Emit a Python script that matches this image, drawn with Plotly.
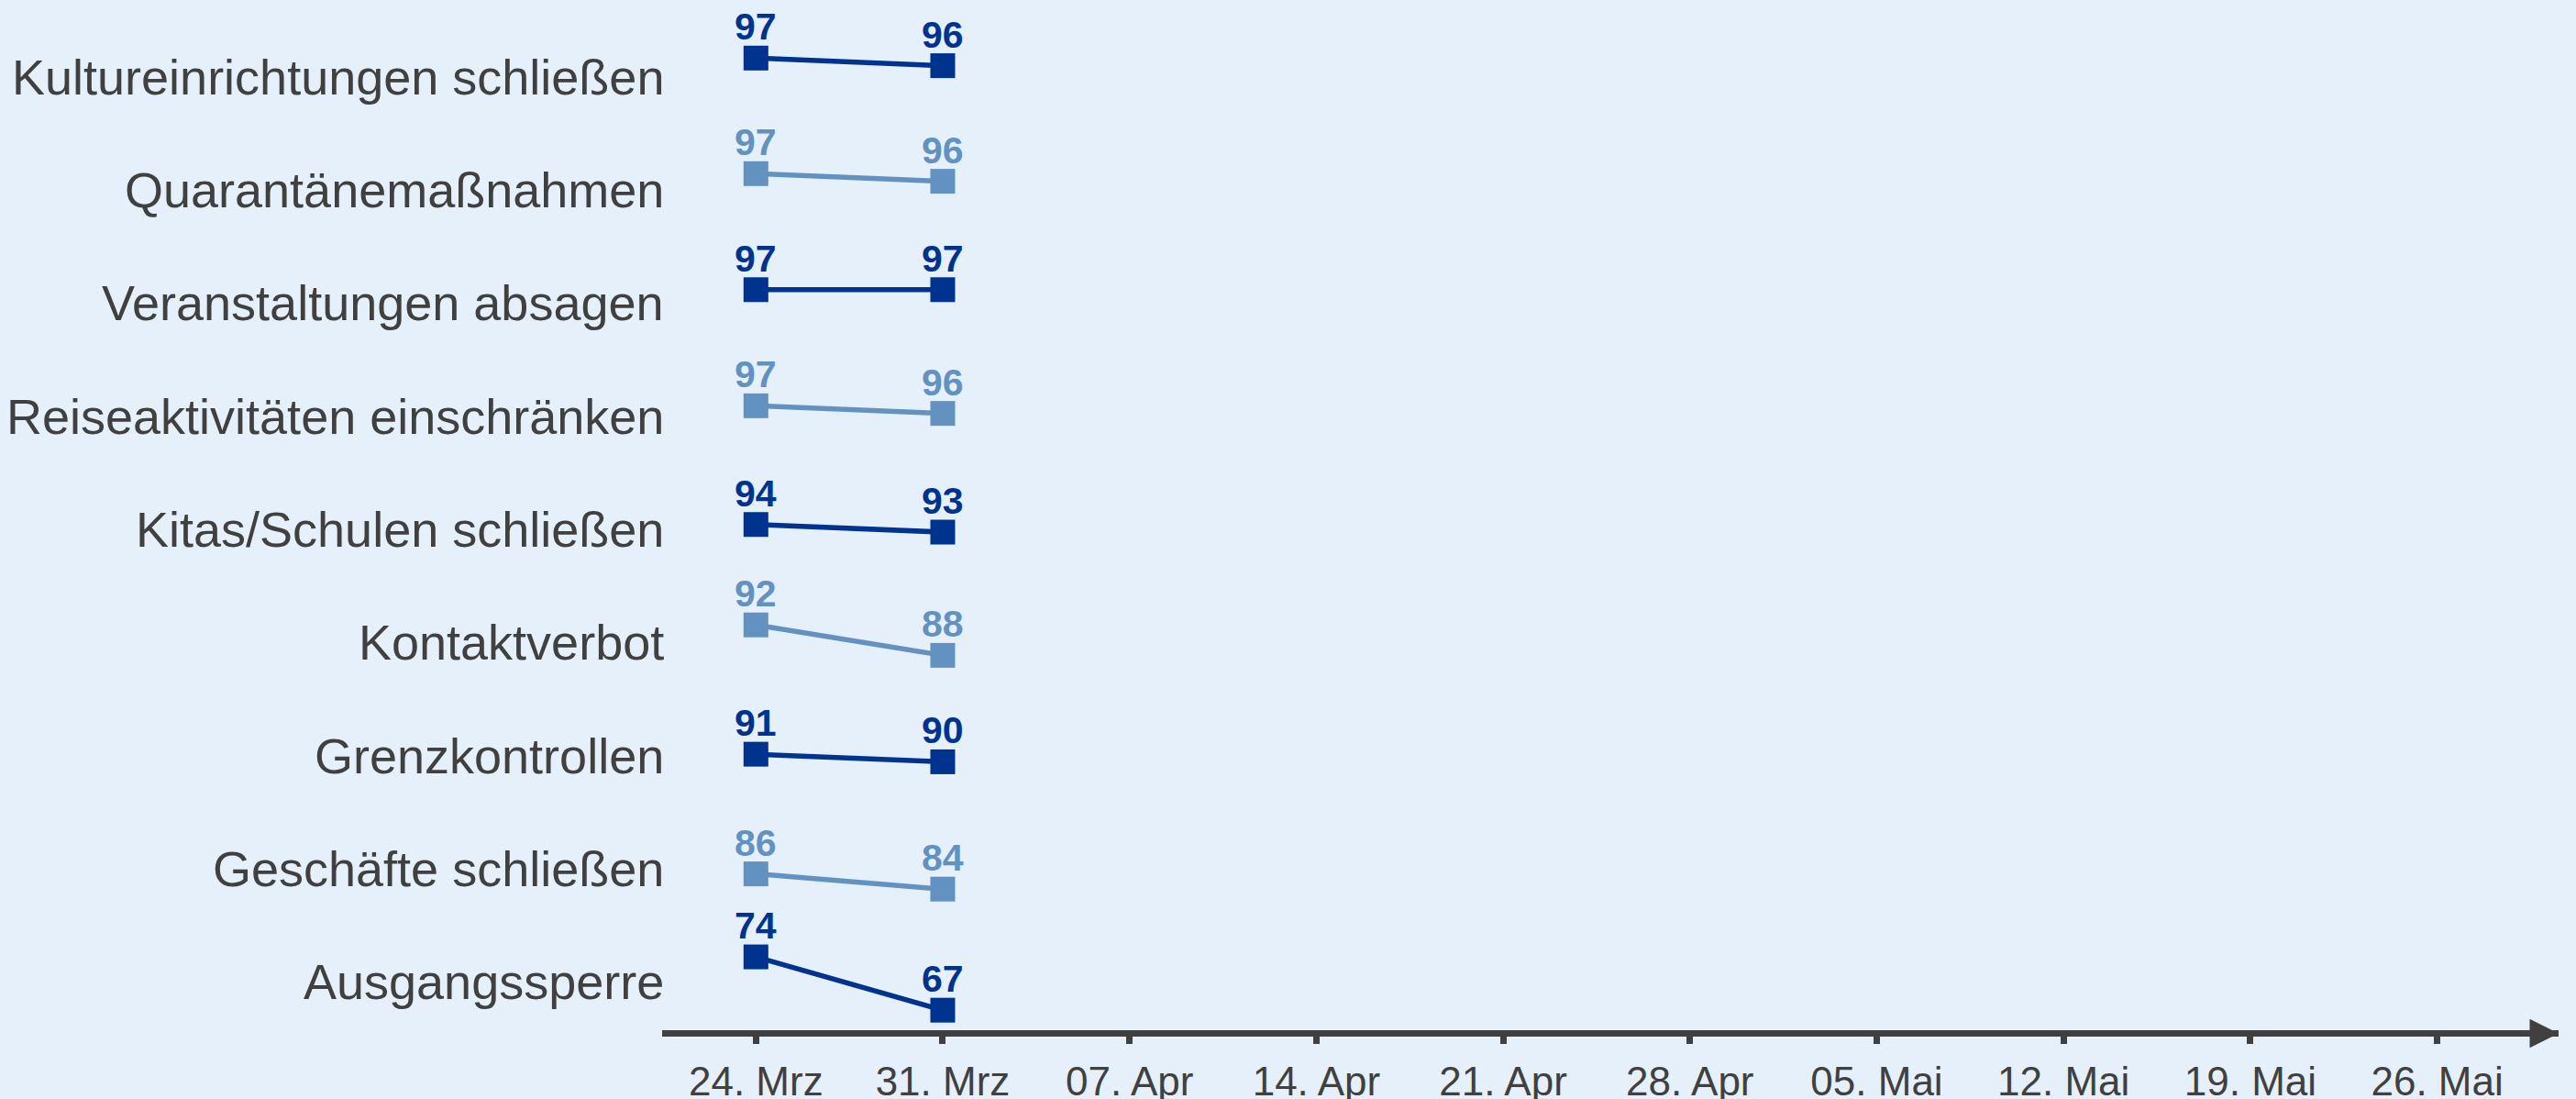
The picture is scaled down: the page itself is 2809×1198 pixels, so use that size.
import plotly.graph_objects as go
from plotly.subplots import make_subplots

categories = ["Kultureinrichtungen schließen", "Quarantänemaßnahmen", "Veranstaltungen absagen",
              "Reiseaktivitäten einschränken", "Kitas/Schulen schließen", "Kontaktverbot",
              "Grenzkontrollen", "Geschäfte schließen", "Ausgangssperre"]
survey_dates = ["2020-03-24", "2020-03-31"]
vals_24mrz = [97, 97, 97, 97, 94, 92, 91, 86, 74]
vals_31mrz = [96, 96, 97, 96, 93, 88, 90, 84, 67]
tick_dates = ["2020-03-24", "2020-03-31", "2020-04-07", "2020-04-14", "2020-04-21",
              "2020-04-28", "2020-05-05", "2020-05-12", "2020-05-19", "2020-05-26"]
tick_labels = ["24. Mrz", "31. Mrz", "07. Apr", "14. Apr", "21. Apr",
               "28. Apr", "05. Mai", "12. Mai", "19. Mai", "26. Mai"]

# layout: where each row's band is centred (value units), same scale for all rows
row_mid = [95.63, 95.95, 96.33, 96.72, 94.45, 90.78, 91.9, 87.76, 71.8]
half_span = 7.43

DARK = "#00338d"
LIGHT = "#6392c1"
BG = "#e5f0fa"
TXT = "#404040"
FONT = "Liberation Sans, Arial, sans-serif"

n = len(categories)
fig = make_subplots(rows=n, cols=1, shared_xaxes=True, vertical_spacing=0)

for i, cat in enumerate(categories):
    col = DARK if i % 2 == 0 else LIGHT
    ys = [vals_24mrz[i], vals_31mrz[i]]
    sfx = "" if i == 0 else str(i + 1)
    fig.add_trace(go.Scatter(
        x=survey_dates, y=ys, mode="lines+markers",
        line=dict(color=col, width=5.5),
        marker=dict(symbol="square", size=27, color=col),
        cliponaxis=False, showlegend=False, name=cat,
    ), row=i + 1, col=1)
    # value labels above the markers
    for d, v in zip(survey_dates, ys):
        fig.add_annotation(x=d, y=v, xref="x" + sfx, yref="y" + sfx, text=str(v),
                           showarrow=False, yanchor="middle", yshift=34,
                           font=dict(family=FONT, size=41, color=col, weight="bold"))
    fig.update_yaxes(range=[row_mid[i] - half_span, row_mid[i] + half_span],
                     visible=False, automargin=False, row=i + 1, col=1)
    fig.add_annotation(text=cat, xref="paper", x=0, xanchor="right", xshift=4,
                       yref=f"y{sfx} domain", y=0.5, yshift=-9,
                       showarrow=False, font=dict(family=FONT, size=54, color=TXT))

fig.update_xaxes(type="date", range=["2020-03-20 11:38", "2020-05-30 13:12"],
                 showgrid=False, zeroline=False, showline=False, showticklabels=False,
                 automargin=False)
fig.update_xaxes(showline=True, linewidth=7, linecolor=TXT,
                 ticks="outside", ticklen=8, tickwidth=7, tickcolor=TXT,
                 tickvals=tick_dates, ticktext=tick_labels, showticklabels=True,
                 ticklabelstandoff=3,
                 tickfont=dict(family=FONT, size=44, color=TXT), row=n, col=1)

# arrow head at the right end of the time axis
fig.add_annotation(xref="paper", yref="paper", x=1, y=0, yshift=-3.5,
                   ax=-40, ay=0, text="", showarrow=True,
                   arrowhead=2, arrowsize=0.9, arrowwidth=7, arrowcolor=TXT)

fig.update_layout(width=2809, height=1198, paper_bgcolor=BG, plot_bgcolor=BG,
                  margin=dict(l=722, r=19, t=13, b=75),
                  font=dict(family=FONT, color=TXT))

fig.write_html("out.html", config={"displayModeBar": False},
               post_script="document.body.style.margin='0';"
                           "document.body.style.overflow='hidden';")
